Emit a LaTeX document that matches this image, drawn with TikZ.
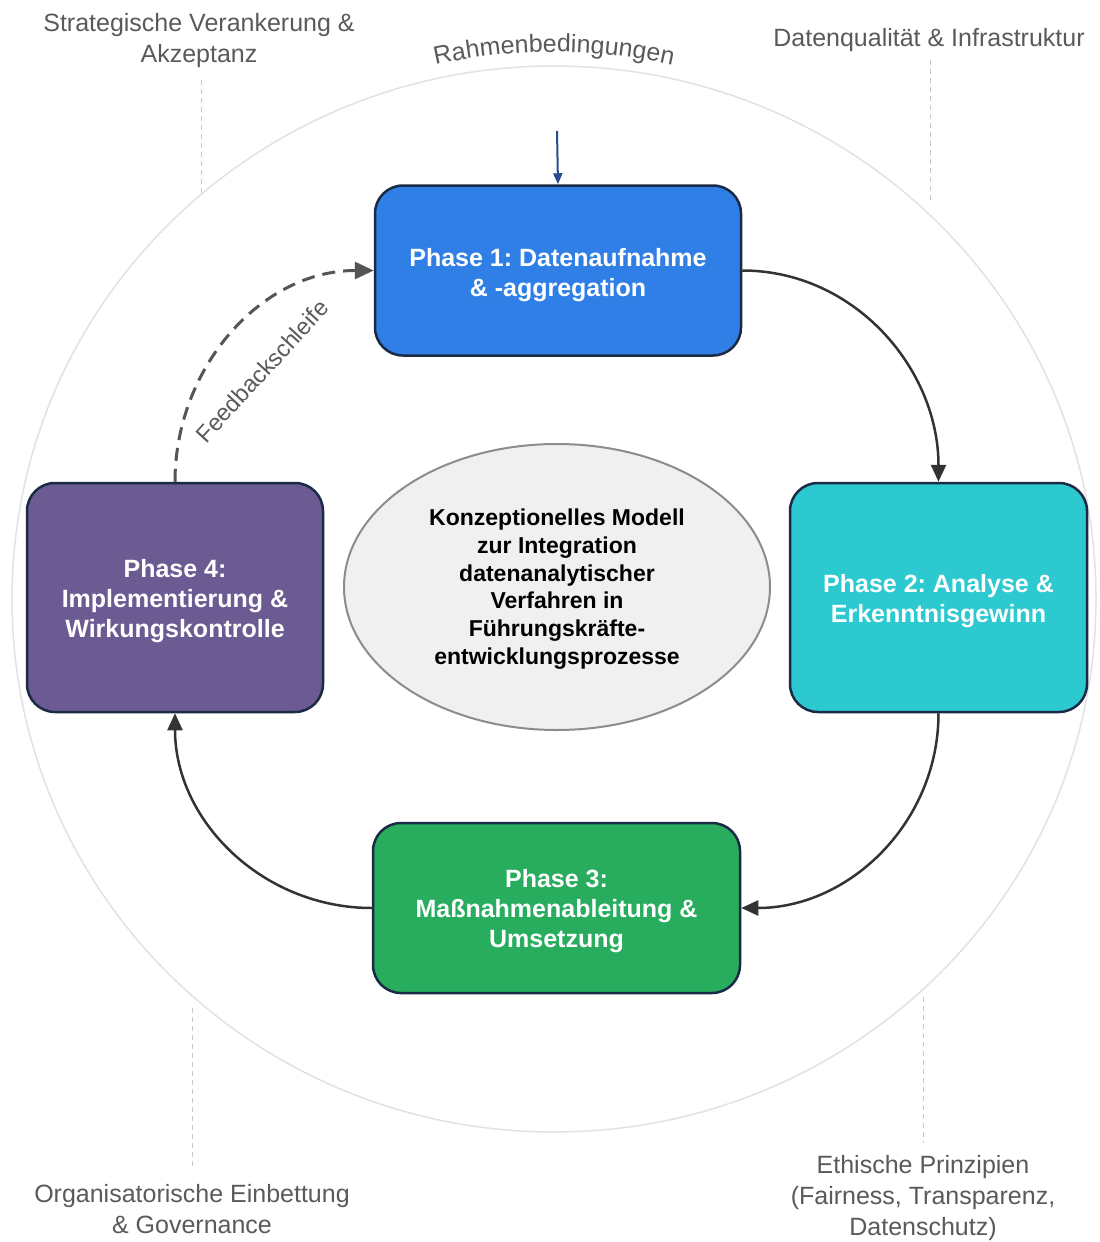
\documentclass[tikz,border=0pt]{standalone}
\usepackage{fontspec}
\setmainfont{Liberation Sans}
\frenchspacing
\usetikzlibrary{arrows.meta,shapes.geometric,decorations.text}
\definecolor{txtgray}{HTML}{5A5A5A}
\definecolor{guidegray}{HTML}{C8C8C8}
\definecolor{ringgray}{HTML}{E2E2E2}
\definecolor{pblue}{HTML}{2F7FE6}
\definecolor{pcyan}{HTML}{2DC9D1}
\definecolor{pgreen}{HTML}{28AD5E}
\definecolor{ppurple}{HTML}{6C5B93}
\definecolor{pborder}{HTML}{1B2A45}
\definecolor{arrowdark}{HTML}{333333}
\definecolor{topblue}{HTML}{2B4C8C}
\definecolor{fbgray}{HTML}{555555}
\begin{document}
\begin{tikzpicture}[x=1pt,y=-1pt,
  phasebox/.style={draw=pborder, line width=2.5pt, rounded corners=28pt, inner sep=0pt},
  phasetext/.style={text=white, align=center, font=\fontsize{25}{30}\selectfont\bfseries, inner sep=0pt},
  sidelabel/.style={text=txtgray, align=center, font=\fontsize{25}{31}\selectfont, inner sep=0pt},
  guide/.style={draw=guidegray, line width=1pt, dash pattern=on 5pt off 4pt},
  flow/.style={draw=arrowdark, line width=2.5pt, -{Triangle[length=17pt,width=15pt]}},
  fb/.style={draw=fbgray, line width=3pt, dash pattern=on 13pt off 8pt, -{Triangle[length=19pt,width=17pt]}}
]
\useasboundingbox (0,0) rectangle (1100,1242);
\fill[white] (0,0) rectangle (1100,1242);

% outer ring
\draw[ringgray, line width=1.5pt] (554,599) ellipse [x radius=542pt, y radius=533pt];

% curved title
\path[decorate, decoration={text along path, text align=center,
  text={|\fontsize{25}{25}\selectfont\color{txtgray}|Rahmenbedingungen}}]
  (412.2,70.7) arc[start angle=105, end angle=75, radius=548pt];

% phase boxes
\node[phasebox, fill=pblue, minimum width=366pt, minimum height=170pt] (p1) at (558,270.5) {};
\node[phasebox, fill=pcyan, minimum width=297pt, minimum height=229pt] (p2) at (938.5,597.5) {};
\node[phasebox, fill=pgreen, minimum width=367pt, minimum height=170pt] (p3) at (556.5,908) {};
\node[phasebox, fill=ppurple, minimum width=296pt, minimum height=229pt] (p4) at (175,597.5) {};
\node[phasetext] (p1t) at ([yshift=-5pt]p1.center) {Phase 1: Datenaufnahme\\\& -aggregation};
\node[phasetext] (p2t) at ([yshift=-3.5pt]p2.center) {Phase 2: Analyse \&\\Erkenntnisgewinn};
\node[phasetext] (p3t) at ([yshift=-3.5pt]p3.center) {Phase 3:\\Maßnahmenableitung \&\\Umsetzung};
\node[phasetext] (p4t) at ([yshift=-3.5pt]p4.center) {Phase 4:\\Implementierung \&\\Wirkungskontrolle};

% center ellipse
\node[ellipse, draw=black!45, line width=2pt, fill=black!6, minimum width=426pt, minimum height=286pt,
  inner sep=0pt] (center) at (557,587) {};
\node[align=center, inner sep=0pt, font=\fontsize{23}{27.8}\selectfont\bfseries] (centert) at ([yshift=-2pt]center.center)
  {Konzeptionelles Modell\\zur Integration\\datenanalytischer\\Verfahren in\\Führungskräfte-\\entwicklungsprozesse};

% top input arrow
\coordinate (topin) at (557,131);
\draw[topblue, line width=2pt, -{Triangle[length=11pt,width=9pt]}] (topin) -- (p1.north);

% flow arrows
\draw[flow] (p1.east) to[out=0,in=90] (p2.north);
\draw[flow] (p2.south) to[out=-90,in=0] (p3.east);
\draw[flow] (p3.west) to[out=180,in=-90] (p4.south);
\draw[fb] (p4.north) to[out=90,in=180] (p1.west);
\node[text=txtgray, font=\fontsize{23.5}{23.5}\selectfont, rotate=47.5] (fblabel) at (262,371) {Feedbackschleife};

% side labels
\node[sidelabel] (l1) at (199,41) {Strategische Verankerung \&\\Akzeptanz};
\node[sidelabel] (l2) at (929,40.5) {Datenqualität \& Infrastruktur};
\node[sidelabel] (l3) at (192,1209.5) {Organisatorische Einbettung\\\& Governance};
\node[sidelabel] (l4) at (923,1198.5) {Ethische Prinzipien\\(Fairness, Transparenz,\\Datenschutz)};

% guide lines
\coordinate (g1a) at (201,80);   \coordinate (g1b) at (201,195);
\coordinate (g2a) at (930,60);   \coordinate (g2b) at (930,200);
\coordinate (g3a) at (192,1008); \coordinate (g3b) at (192,1170);
\coordinate (g4a) at (923,997);  \coordinate (g4b) at (923,1143);
\draw[guide] (g1a) -- (g1b);
\draw[guide] (g2a) -- (g2b);
\draw[guide] (g3a) -- (g3b);
\draw[guide] (g4a) -- (g4b);
\end{tikzpicture}
\end{document}
